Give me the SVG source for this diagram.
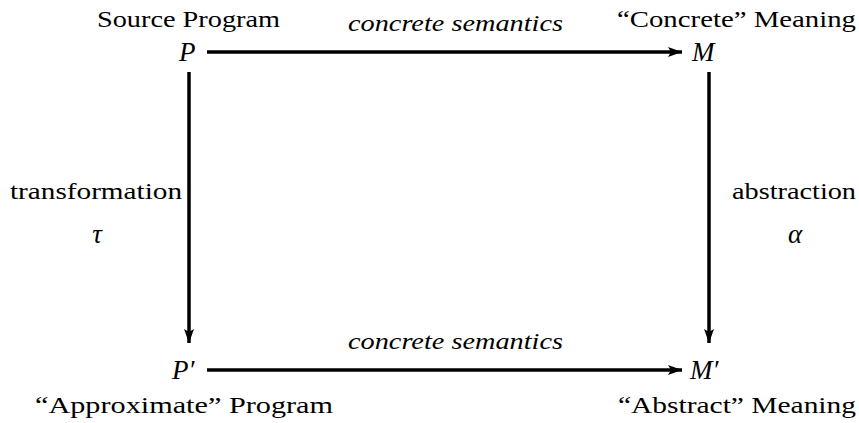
<svg xmlns="http://www.w3.org/2000/svg" width="859" height="423" viewBox="0 0 859 423">
<style>
text{font-family:'Liberation Serif','Times New Roman','DejaVu Serif',serif;font-size:24px;fill:#000}
.it{font-style:italic}
.m{font-style:italic;font-size:27px}
.c{text-anchor:middle}
.ln{stroke:#000;stroke-width:3.5;fill:none}
</style>
<defs>
<marker id="ah" viewBox="0 0 14 10" refX="14" refY="5" markerWidth="14" markerHeight="10" markerUnits="userSpaceOnUse" orient="auto">
<path d="M0,0 L14,5 L0,10 L3,5 Z" fill="#000"/>
</marker>
</defs>
<rect width="859" height="423" fill="#fff"/>
<g id="connectors">
<line class="ln" x1="207" y1="52" x2="682" y2="52" marker-end="url(#ah)"/>
<line class="ln" x1="207" y1="370" x2="682" y2="370" marker-end="url(#ah)"/>
<line class="ln" x1="189" y1="72" x2="189" y2="343" marker-end="url(#ah)"/>
<line class="ln" x1="709" y1="72" x2="709" y2="343" marker-end="url(#ah)"/>
<text class="it" x="348" y="31" textLength="215" lengthAdjust="spacingAndGlyphs">concrete semantics</text>
<text class="it" x="348" y="349" textLength="215" lengthAdjust="spacingAndGlyphs">concrete semantics</text>
<text x="10" y="199" textLength="172" lengthAdjust="spacingAndGlyphs">transformation</text>
<text class="m c" x="97" y="243">τ</text>
<text x="732" y="199" textLength="124" lengthAdjust="spacingAndGlyphs">abstraction</text>
<text class="m c" x="795" y="243">α</text>
</g>
<g id="node-P">
<text x="97" y="27" textLength="183" lengthAdjust="spacingAndGlyphs">Source Program</text>
<text class="m" x="179" y="61">P</text>
</g>
<g id="node-M">
<text x="617" y="27" textLength="239" lengthAdjust="spacingAndGlyphs">“Concrete” Meaning</text>
<text class="m" x="692" y="61">M</text>
</g>
<g id="node-P2">
<text class="m" x="172" y="379">P′</text>
<text x="35" y="413" textLength="298" lengthAdjust="spacingAndGlyphs">“Approximate” Program</text>
</g>
<g id="node-M2">
<text class="m" x="690" y="379">M′</text>
<text x="618" y="413" textLength="238" lengthAdjust="spacingAndGlyphs">“Abstract” Meaning</text>
</g>
</svg>
